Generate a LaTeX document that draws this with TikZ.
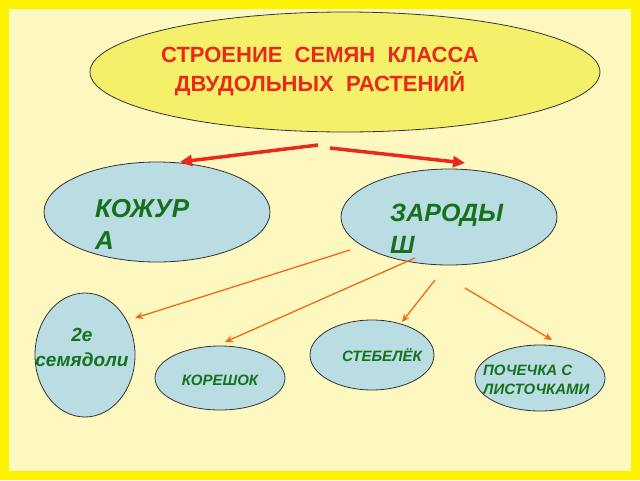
\documentclass[tikz,border=0pt]{standalone}
\usepackage{fontspec}
\setmainfont{Liberation Sans}
\usetikzlibrary{arrows.meta}
\definecolor{bgy}{HTML}{FDF8C0}
\definecolor{fr}{HTML}{FFF200}
\definecolor{topf}{HTML}{F5F06A}
\definecolor{bl}{HTML}{B9DDE3}
\definecolor{gr}{HTML}{16701C}
\definecolor{rd}{HTML}{E8291C}
\definecolor{og}{HTML}{F26A10}
\tikzset{
  ell/.style={draw=black!80,line width=0.8pt,fill=bl},
  lbl/.style={text=gr,font=\bfseries\itshape,align=left,inner sep=0},
  big/.style={arrows={-Triangle[length=12pt,width=11pt]},draw=rd,line width=3.5pt},
  thin/.style={-{Stealth[length=8pt,width=7pt]},draw=og,line width=1.3pt}
}
\begin{document}
\begin{tikzpicture}[x=1pt,y=-1pt]
\useasboundingbox (0,0) rectangle (640,480);
\fill[fr] (0,0) rectangle (640,480);
\fill[bgy] (9,9) rectangle (631,471);
\draw[ell,fill=topf] (345,72) ellipse (255 and 60);
\node[text=rd,font=\bfseries\fontsize{22}{29}\selectfont,align=center] (t) at (320,72) {СТРОЕНИЕ \ СЕМЯН \ КЛАССА\\ДВУДОЛЬНЫХ \ РАСТЕНИЙ};
\draw[ell] (157,212) ellipse (113 and 50);
\draw[ell] (449,217) ellipse (108 and 48);
\draw[ell] (85,355) ellipse (50 and 62);
\draw[ell] (372,355) ellipse (62 and 35);
\draw[ell] (220,378) ellipse (65 and 32);
\draw[ell] (540,378) ellipse (65 and 33);
\node[lbl,font=\bfseries\itshape\fontsize{26}{32}\selectfont,anchor=west] (k) at (95,224) {КОЖУР\\А};
\node[lbl,font=\bfseries\itshape\fontsize{25}{32}\selectfont,anchor=west] (z) at (390,229) {ЗАРОДЫ\\Ш};
\node[lbl,align=center,font=\bfseries\itshape\fontsize{19}{25}\selectfont] (s) at (82,347) {2е\\семядоли};
\node[lbl,font=\bfseries\itshape\fontsize{15}{16}\selectfont] (st) at (382,355) {СТЕБЕЛЁК};
\node[lbl,font=\bfseries\itshape\fontsize{15}{16}\selectfont] (kr) at (220,380) {КОРЕШОК};
\node[lbl,font=\bfseries\itshape\fontsize{15}{19}\selectfont,anchor=west] (p) at (483,380) {ПОЧЕЧКА С\\ЛИСТОЧКАМИ};
\coordinate (a1) at (318,145); \coordinate (a2) at (180,162);
\coordinate (b1) at (330,148); \coordinate (b2) at (465,163);
\draw[big] (a1) -- (a2);
\draw[big] (b1) -- (b2);
\coordinate (c1) at (350,250); \coordinate (c2) at (135,318);
\coordinate (d1) at (415,258); \coordinate (d2) at (225,342);
\coordinate (e1) at (435,280); \coordinate (e2) at (402,322);
\coordinate (f1) at (465,288); \coordinate (f2) at (552,340);
\draw[thin] (c1) -- (c2);
\draw[thin] (d1) -- (d2);
\draw[thin] (e1) -- (e2);
\draw[thin] (f1) -- (f2);
\end{tikzpicture}
\end{document}
